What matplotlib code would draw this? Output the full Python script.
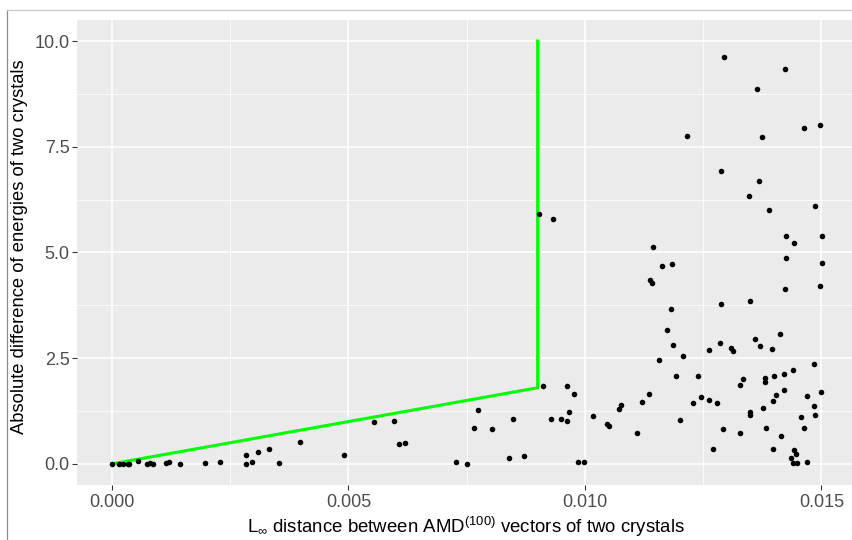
import matplotlib
matplotlib.use("Agg")
import matplotlib.pyplot as plt
from matplotlib.lines import Line2D

plt.rcParams['font.family'] = ['Liberation Sans', 'DejaVu Sans']
plt.rcParams['mathtext.fontset'] = 'custom'
plt.rcParams['mathtext.rm'] = 'Liberation Sans'
plt.rcParams['mathtext.it'] = 'Liberation Sans'
plt.rcParams['mathtext.fallback'] = 'cm'

# L-infinity distance between AMD vectors and energy difference per crystal pair
dist = [
    0.00000, 0.00015, 0.00023, 0.00033, 0.00037, 0.00054, 0.00073, 0.00080,
    0.00087, 0.00114, 0.00121, 0.00144, 0.00197, 0.00229, 0.00283, 0.00284,
    0.00296, 0.00308, 0.00333, 0.00353, 0.00398, 0.00490, 0.00554,
    0.00597, 0.00607, 0.00619, 0.00727, 0.00751, 0.00766, 0.00774, 0.00804,
    0.00840, 0.00847, 0.00871, 0.00912, 0.00928, 0.00950, 0.00961, 0.00962,
    0.00976, 0.00967, 0.00985, 0.00999, 0.01017, 0.01046, 0.01050, 0.01071,
    0.01077, 0.00903, 0.00933,
    0.01143, 0.01163, 0.01184, 0.01138, 0.01141, 0.01182, 0.01174, 0.01186,
    0.01208, 0.01157, 0.01193, 0.01238, 0.01121, 0.01136, 0.01109, 0.01200,
    0.01229, 0.01246, 0.01263, 0.01280, 0.01271, 0.01292, 0.01263, 0.01285,
    0.01309, 0.01313, 0.01287, 0.01350, 0.01327, 0.01335, 0.01327, 0.01350,
    0.01350, 0.01359, 0.01371, 0.01395, 0.01412, 0.01381, 0.01381, 0.01400,
    0.01420, 0.01440, 0.01484, 0.01376, 0.01398, 0.01403, 0.01420, 0.01470,
    0.01499, 0.01484, 0.01487, 0.01456, 0.01464, 0.01383, 0.01414, 0.01398,
    0.01441, 0.01446, 0.01436, 0.01439, 0.01448, 0.01470, 0.01426, 0.01441,
    0.01501, 0.01425, 0.01501, 0.01424, 0.01497,
    0.01295, 0.01422, 0.01363, 0.01215, 0.01374, 0.01464, 0.01496, 0.01287,
    0.01367, 0.01347, 0.01389, 0.01487,
]
energy = [
    0.00, 0.00, 0.00, 0.00, 0.00, 0.06, 0.00, 0.01,
    0.00, 0.02, 0.04, 0.00, 0.02, 0.05, 0.00, 0.21,
    0.05, 0.27, 0.35, 0.02, 0.51, 0.22, 0.99,
    1.02, 0.46, 0.50, 0.05, 0.00, 0.84, 1.28, 0.83,
    0.14, 1.05, 0.18, 1.83, 1.05, 1.05, 1.02, 1.83,
    1.66, 1.23, 0.04, 0.04, 1.13, 0.95, 0.90, 1.30,
    1.39, 5.90, 5.78,
    5.12, 4.69, 4.72, 4.35, 4.27, 3.66, 3.17, 2.82,
    2.55, 2.46, 2.07, 2.07, 1.47, 1.65, 0.74, 1.03,
    1.45, 1.59, 1.50, 1.45, 0.34, 0.83, 2.69, 2.87,
    2.73, 2.67, 3.78, 3.86, 1.87, 2.01, 0.72, 1.23,
    1.15, 2.96, 2.78, 2.72, 3.07, 2.04, 1.93, 2.07,
    2.13, 2.23, 2.35, 1.31, 1.48, 1.62, 1.74, 1.60,
    1.70, 1.37, 1.15, 1.11, 0.85, 0.85, 0.67, 0.35,
    0.33, 0.23, 0.14, 0.02, 0.02, 0.04, 5.39, 5.23,
    5.40, 4.86, 4.74, 4.13, 4.21,
    9.63, 9.33, 8.86, 7.76, 7.72, 7.94, 8.01, 6.92,
    6.69, 6.33, 6.01, 6.09,
]

# Threshold boundary
bound_x = [0.0, 0.009, 0.009]
bound_y = [0.0, 1.8, 10.0]

x_ticks = [0.000, 0.005, 0.010, 0.015]
x_tick_labels = ["0.000", "0.005", "0.010", "0.015"]
y_ticks = [0.0, 2.5, 5.0, 7.5, 10.0]
y_tick_labels = ["0.0", "2.5", "5.0", "7.5", "10.0"]

W, H = 852, 540
fig = plt.figure(figsize=(W / 100, H / 100), dpi=100)
fig.patch.set_facecolor('white')

# panel extents in pixels
left_px, right_px, top_px, bottom_px = 76.5, 857.4, 19.9, 485.0
ax = fig.add_axes([left_px / W, 1 - bottom_px / H,
                   (right_px - left_px) / W, (bottom_px - top_px) / H])
ax.set_facecolor('#EBEBEB')
for s in ax.spines.values():
    s.set_visible(False)

xmin, xmax = 0.0, max(dist)
xpad = (xmax - xmin) * 0.05
ax.set_xlim(xmin - xpad, xmax + xpad)
ax.set_ylim(-0.5, 10.5)

ax.set_xticks(x_ticks)
ax.set_xticklabels(x_tick_labels)
ax.set_yticks(y_ticks)
ax.set_yticklabels(y_tick_labels)
ax.set_xticks([0.0025, 0.0075, 0.0125], minor=True)
ax.set_yticks([1.25, 3.75, 6.25, 8.75], minor=True)

ax.grid(which='major', color='white', linewidth=1.1)
ax.grid(which='minor', color='white', linewidth=0.55)
ax.set_axisbelow(True)
ax.tick_params(which='major', length=3.5, width=0.8, color='#333333',
               labelcolor='#4D4D4D', labelsize=13, pad=1.5)
ax.tick_params(axis='x', which='major', pad=3)
ax.tick_params(which='minor', length=0)

ax.plot(bound_x, bound_y, color='#00FF00', linewidth=2.2, zorder=3)
ax.scatter(dist, energy, s=16, color='black', marker='o', linewidths=0, zorder=4)

fig.text(20 / W, 1 - 247 / H, "Absolute difference of energies of two crystals",
         rotation=90, ha='center', va='center', fontsize=13.2, color='black')
fig.text(466 / W, 1 - 527 / H,
         r"L$_{\infty}$ distance between AMD$^{(100)}$ vectors of two crystals",
         ha='center', va='center', fontsize=13.4, color='black')

# outer frame lines
fig.add_artist(Line2D([7 / W, 7 / W], [0, 1 - 10 / H], transform=fig.transFigure,
                      color='#8c8c8c', linewidth=0.9))
fig.add_artist(Line2D([7 / W, 1], [1 - 10 / H, 1 - 10 / H], transform=fig.transFigure,
                      color='#c8c8c8', linewidth=0.9))

fig.savefig("out.png", dpi=100, facecolor='white')
